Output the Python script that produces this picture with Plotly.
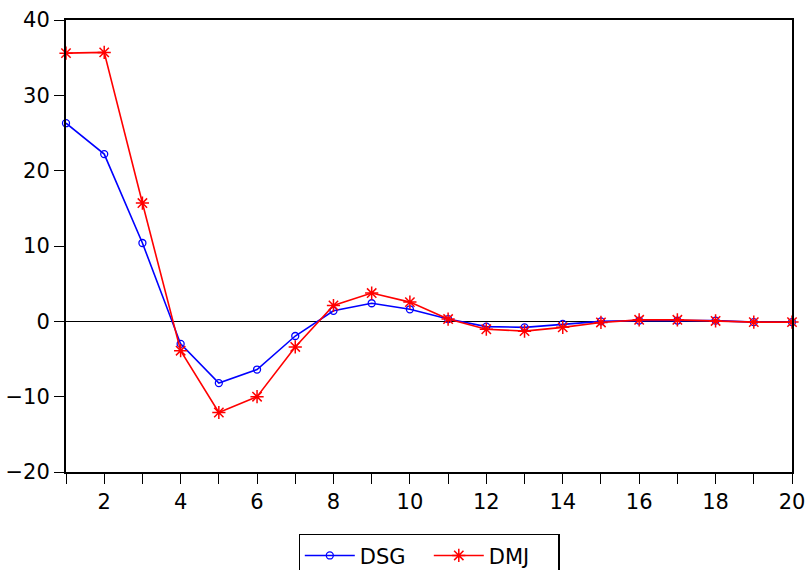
import plotly.graph_objects as go

periods = list(range(1, 21))
dsg = [26.3, 22.2, 10.4, -3.0, -8.2, -6.4, -1.95, 1.4, 2.4, 1.6,
       0.3, -0.7, -0.8, -0.35, 0.0, 0.1, 0.1, 0.1, -0.1, -0.1]
dmj = [35.6, 35.7, 15.7, -3.9, -12.1, -10.0, -3.4, 2.1, 3.75, 2.55,
       0.3, -1.05, -1.3, -0.8, -0.15, 0.2, 0.2, 0.05, -0.1, -0.1]
x_tickvals = list(range(1, 21))
x_ticktext = [str(v) if v % 2 == 0 else "" for v in x_tickvals]
y_tickvals = [-20, -10, 0, 10, 20, 30, 40]

FONT = "DejaVu Sans, sans-serif"

fig = go.Figure()
fig.add_trace(go.Scatter(
    x=periods, y=dsg, name="DSG", mode="lines+markers",
    line=dict(color="#0000ff", width=1.6),
    marker=dict(symbol="circle-open", size=7, color="#0000ff", line=dict(width=1.3)),
    cliponaxis=False,
))
fig.add_trace(go.Scatter(
    x=periods, y=dmj, name="DMJ", mode="lines+markers",
    line=dict(color="#ff0000", width=1.6),
    marker=dict(symbol="asterisk-open", size=11, color="#ff0000", line=dict(width=1.5)),
    cliponaxis=False,
))

fig.update_layout(
    width=809, height=570,
    margin=dict(l=66, r=17, t=20, b=98, autoexpand=False),
    paper_bgcolor="white", plot_bgcolor="white",
    font=dict(family=FONT, size=21, color="black"),
    showlegend=True,
    legend=dict(
        orientation="h", x=0.5, xanchor="center",
        yref="container", y=1 - 534 / 570, yanchor="top",
        bordercolor="black", borderwidth=1.3,
        font=dict(family=FONT, size=21, color="black"),
        itemwidth=50, entrywidth=64, entrywidthmode="pixels",
    ),
    xaxis=dict(
        range=[1, 20], tickmode="array", tickvals=x_tickvals, ticktext=x_ticktext,
        ticks="outside", ticklen=10, tickwidth=1.3, tickcolor="black",
        showline=True, linecolor="black", linewidth=2, mirror=True,
        showgrid=False, zeroline=False,
        tickfont=dict(family=FONT, size=21, color="black"),
    ),
    yaxis=dict(
        range=[-20, 40], tickmode="array", tickvals=y_tickvals,
        ticks="outside", ticklen=10, tickwidth=1.3, tickcolor="black",
        showline=True, linecolor="black", linewidth=2, mirror=True,
        showgrid=False, zeroline=True, zerolinecolor="black", zerolinewidth=1,
        tickfont=dict(family=FONT, size=21, color="black"),
    ),
)

fig.write_html("out.html")
